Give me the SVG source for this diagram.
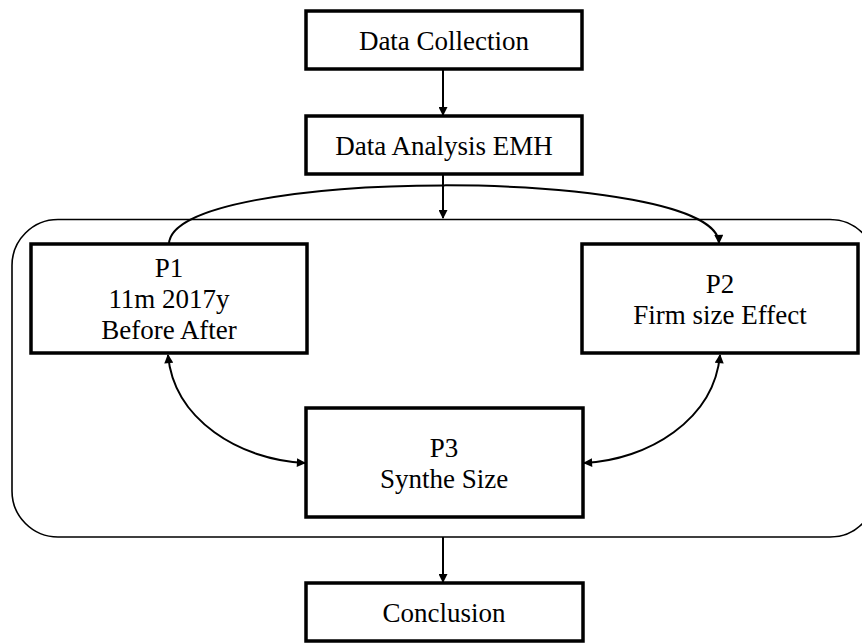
<svg xmlns="http://www.w3.org/2000/svg" width="862" height="643" viewBox="0 0 862 643">
<style>
.box{fill:#fff;stroke:#000;stroke-width:3.5}
.t{font-family:"Liberation Serif","Times New Roman",serif;font-size:27px;fill:#000;text-anchor:middle}
.c{fill:none;stroke:#000;stroke-width:2}
</style>
<defs>
<marker id="ah" viewBox="0 0 10 10" refX="9" refY="5" markerWidth="10" markerHeight="9" markerUnits="userSpaceOnUse" orient="auto-start-reverse">
<path d="M0,0 L10,5 L0,10 z" fill="#000"/>
</marker>
</defs>
<rect id="container" x="12" y="219.5" width="864" height="317.5" rx="46" ry="46" fill="none" stroke="#000" stroke-width="1.6"/>
<g id="connectors">
<path class="c" d="M443,70 L443,115" marker-end="url(#ah)"/>
<path class="c" d="M443,174 L443,218" marker-end="url(#ah)"/>
<path class="c" d="M443,537 L443,582" marker-end="url(#ah)"/>
<path class="c" d="M169,244 C171,166 717,166 719,243" marker-end="url(#ah)"/>
<path class="c" d="M168,355 C174,420 240,460 305,463" marker-start="url(#ah)" marker-end="url(#ah)"/>
<path class="c" d="M720,355 C714,420 648,460 584,463" marker-start="url(#ah)" marker-end="url(#ah)"/>
</g>
<g id="data-collection">
<rect class="box" x="306" y="11" width="276" height="58"/>
<text class="t" x="444" y="50">Data Collection</text>
</g>
<g id="data-analysis">
<rect class="box" x="306" y="116" width="276" height="58"/>
<text class="t" x="444" y="155">Data Analysis EMH</text>
</g>
<g id="p1">
<rect class="box" x="31" y="244" width="276" height="109"/>
<text class="t" x="169" y="277">P1</text>
<text class="t" x="169" y="308">11m 2017y</text>
<text class="t" x="169" y="339">Before After</text>
</g>
<g id="p2">
<rect class="box" x="582" y="244" width="276" height="109"/>
<text class="t" x="720" y="293">P2</text>
<text class="t" x="720" y="324">Firm size Effect</text>
</g>
<g id="p3">
<rect class="box" x="306" y="408" width="277" height="109"/>
<text class="t" x="444" y="457">P3</text>
<text class="t" x="444" y="488">Synthe Size</text>
</g>
<g id="conclusion">
<rect class="box" x="306" y="583" width="277" height="58"/>
<text class="t" x="444" y="622">Conclusion</text>
</g>
</svg>
